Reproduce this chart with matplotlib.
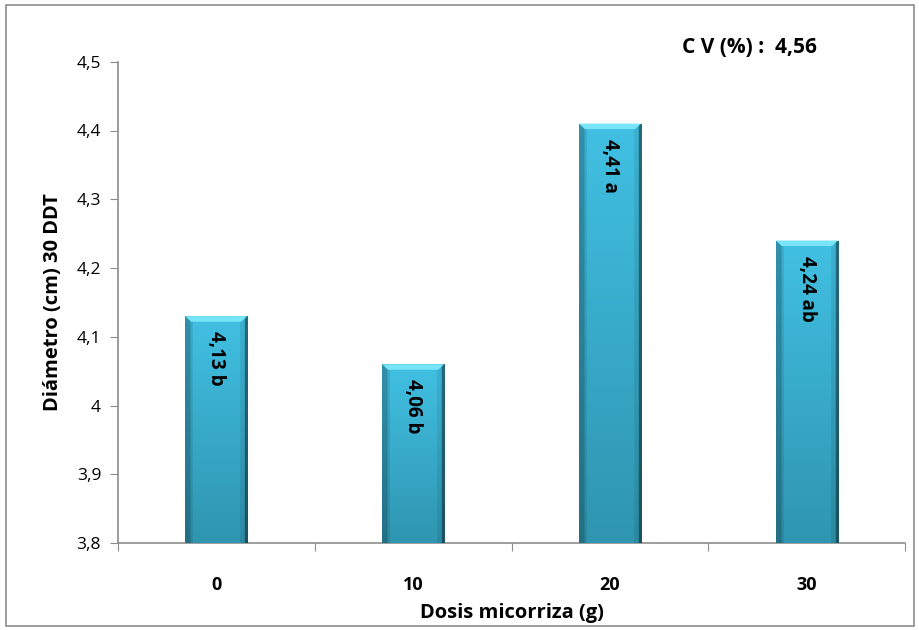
import numpy as np
import matplotlib.pyplot as plt
from matplotlib.patches import Rectangle, Polygon
from matplotlib.colors import to_rgb

plt.rcParams['font.family'] = ['Open Sans', 'DejaVu Sans']

doses = ['0', '10', '20', '30']
diam = [4.13, 4.06, 4.41, 4.24]
letters = ['b', 'b', 'a', 'ab']
cv_text = 'C V (%) :  4,56'

y_min, y_max = 3.8, 4.5
bar_w = 0.315


def bar_shading(nx=80, ny=200):
    """RGB image: cyan body getting darker downward, dark side edges."""
    top = np.array(to_rgb('#41c0e3'))
    bot = np.array(to_rgb('#2f95b0'))
    t = np.linspace(0, 1, ny).reshape(-1, 1, 1)
    img = top * (1 - t) + bot * t
    img = np.repeat(img, nx, axis=1)
    u = np.linspace(0, 1, nx)
    side = np.ones(nx)
    side[u < 0.08] = 0.75
    side[(u >= 0.08) & (u < 0.12)] = 0.9
    side[u > 0.95] = 0.55
    side[(u > 0.88) & (u <= 0.95)] = 0.92
    return np.clip(img * side.reshape(1, -1, 1), 0, 1)


fig = plt.figure(figsize=(9.2, 6.3), dpi=100)
ax = fig.add_axes([0.128, 0.138, 0.856, 0.764])

# outer chart frame
fig.patches.append(Rectangle((0.006, 0.006), 0.988, 0.986, transform=fig.transFigure,
                             fill=False, edgecolor='#8c8c8c', linewidth=1.2))

x = np.arange(len(doses))
shade = bar_shading()

for xi, v, lt in zip(x, diam, letters):
    left = xi - bar_w / 2
    bars = ax.bar(xi, v - y_min, bottom=y_min, width=bar_w, color='#3ab5d8',
                  edgecolor='none', zorder=2)
    im = ax.imshow(shade, extent=(left, left + bar_w, y_min, v),
                   aspect='auto', zorder=3, interpolation='bilinear')
    im.set_clip_path(bars[0])
    # light bevel on top
    bev = 0.008
    ax.add_patch(Polygon([(left, v), (left + bar_w, v),
                          (left + bar_w - 0.03, v - bev), (left + 0.03, v - bev)],
                         closed=True, facecolor='#78e4f7', edgecolor='none', zorder=5))
    ax.text(xi, v - 0.022, f'{v:.2f}'.replace('.', ',') + ' ' + lt,
            rotation=270, ha='center', va='top', fontsize=13.5,
            fontweight='bold', color='black', zorder=6)

ax.set_xlim(-0.5, len(doses) - 0.5)
ax.set_ylim(y_min, y_max)
ax.set_xticks(np.arange(-0.5, len(doses), 1.0), minor=False)
ax.set_xticklabels([])
ax.set_xticks(x, minor=True)
ax.set_xticklabels(doses, minor=True, fontsize=13, fontweight='bold')
ax.tick_params(axis='x', which='minor', length=0, pad=24)
ax.tick_params(axis='x', which='major', length=6, color='#8c8c8c', direction='out')

yt = np.round(np.arange(3.8, 4.51, 0.1), 1)
ax.set_yticks(yt)
ax.set_yticklabels([f'{t:g}'.replace('.', ',') for t in yt], fontsize=12.5)
ax.tick_params(axis='y', length=6, color='#8c8c8c', direction='out', pad=6)

for s in ['top', 'right']:
    ax.spines[s].set_visible(False)
for s in ['left', 'bottom']:
    ax.spines[s].set_color('#8c8c8c')
    ax.spines[s].set_linewidth(1.2)

ax.set_xlabel('Dosis micorriza (g)', fontsize=14.5, fontweight='bold', labelpad=6)
ax.set_ylabel('Diámetro (cm) 30 DDT', fontsize=14.5, fontweight='bold', labelpad=10)

fig.text(0.815, 0.925, cv_text, ha='center', va='center', fontsize=15,
         fontweight='bold')

fig.savefig('out.png', dpi=100)
